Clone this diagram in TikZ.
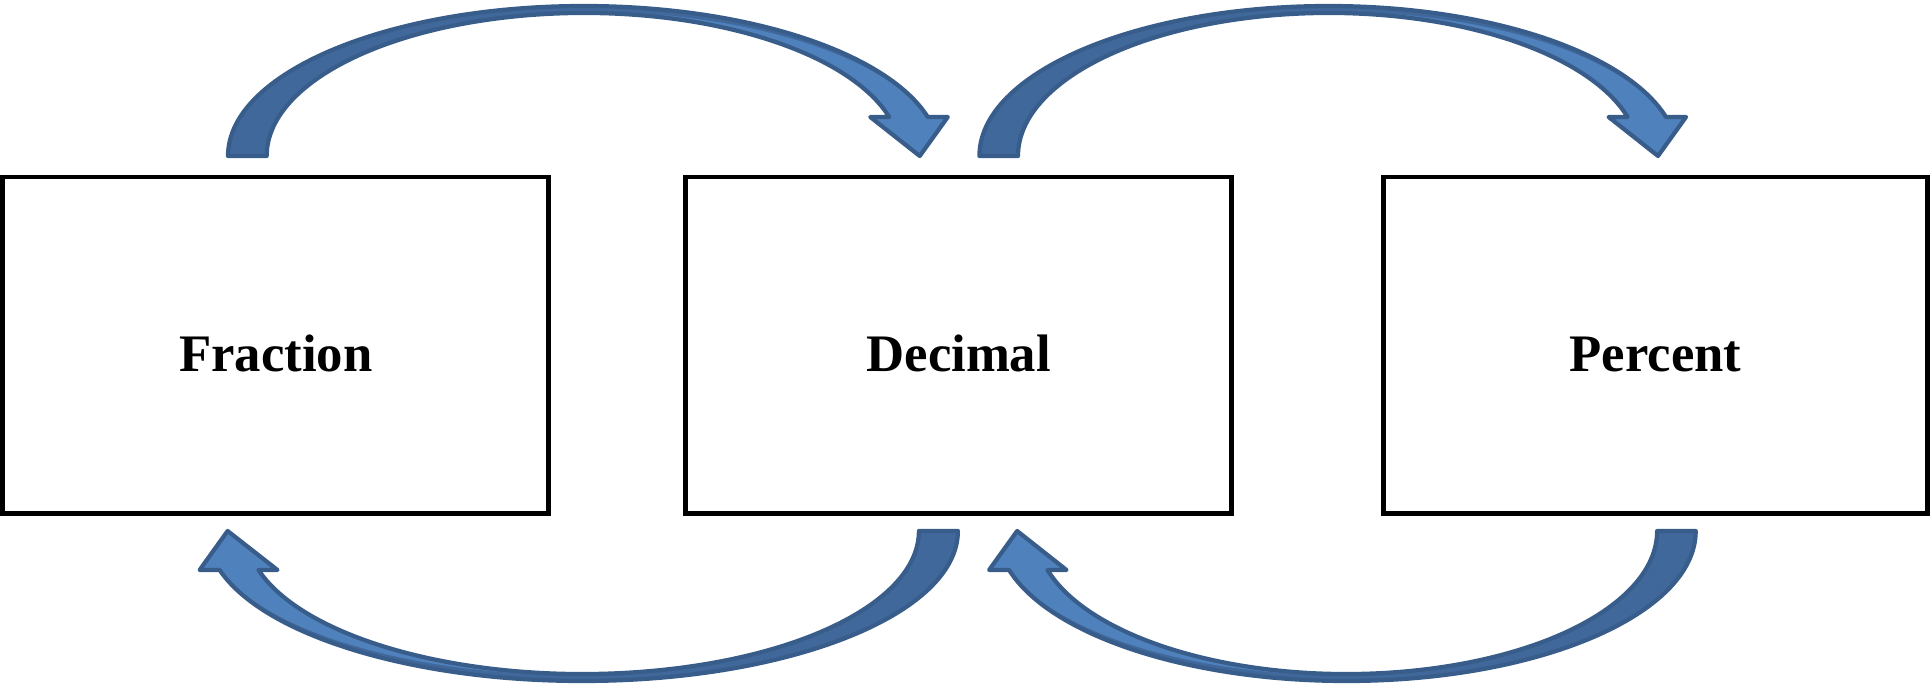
\documentclass[tikz,border=0pt]{standalone}
\usepackage{fontspec}
\setmainfont{Liberation Serif}
\usetikzlibrary{positioning}

\definecolor{arrowfill}{HTML}{4F81BD}
\definecolor{arrowshade}{RGB}{64,104,155}
\definecolor{arrowedge}{HTML}{385D8A}

% bent block arrow round the origin, tail on the left, head on the right
\newcommand{\bendpath}[2]{(-#1,0)
  arc[start angle=180, end angle={asin(0.39/1.5)}, x radius=#1, y radius=1.5]
  -- ++(0.2,0) -- ({#1*cos(asin(0.39/1.5))-0.08},0)
  -- ({#2*cos(asin(0.39/1.43))-0.19},0.39) -- ({#2*cos(asin(0.39/1.43))},0.39)
  arc[start angle={asin(0.39/1.43)}, end angle=180, x radius=#2, y radius=1.43]
  -- cycle}

\newcommand{\bendarrow}[4]{%
  \begin{scope}[shift={#1}, rotate=#4]
    \fill[arrowshade] \bendpath{#2}{#3};
    \begin{scope}
      \clip \bendpath{#2}{#3};
      \fill[arrowfill] (0,0) -- (#2,0)
        arc[start angle=0, end angle=90, x radius=#2, y radius=1.445] -- cycle;
      \fill[arrowfill] (0,-0.5) rectangle ({#2+0.5},0.39);
    \end{scope}
    \draw[bendline] \bendpath{#2}{#3};
  \end{scope}}

\begin{document}
\begin{tikzpicture}[
  box/.style={draw, line width=1.3pt, minimum width=5.46cm,
    minimum height=3.365cm, outer sep=0pt, inner sep=0pt,
    text height=0.52cm, text depth=0pt,
    font=\bfseries\fontsize{15}{18}\selectfont},
  bendline/.style={draw=arrowedge, line width=1.2pt, line join=round},
]
  \useasboundingbox (0,0) rectangle (19.31,6.87);

  \node[box] (frac) at (2.7575,3.4175) {Fraction};
  \node[box, right=1.37cm of frac] (dec) {Decimal};
  \node[box, right=1.52cm of dec, minimum width=5.435cm] (perc) {Percent};

  \coordinate (fracdec) at (5.84,5.31);
  \coordinate (decperc) at (13.287,5.31);
  \coordinate (decfrac) at (5.823,1.56);
  \coordinate (percdec) at (13.464,1.56);

  \bendarrow{(fracdec)}{3.56}{3.173}{0}
  \bendarrow{(decperc)}{3.493}{3.107}{0}
  \bendarrow{(decfrac)}{3.756}{3.366}{180}
  \bendarrow{(percdec)}{3.493}{3.107}{180}
\end{tikzpicture}
\end{document}
